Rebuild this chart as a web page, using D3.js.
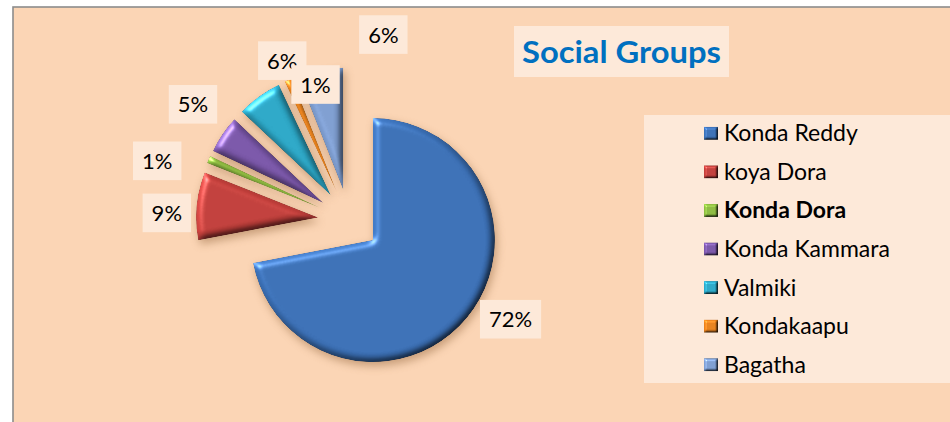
<!DOCTYPE html>
<html>
<head>
<meta charset="utf-8">
<script src="https://cdn.jsdelivr.net/npm/d3@7"></script>
<style>
  html, body { margin: 0; padding: 0; background: #ffffff; }
  svg { display: block; font-family: Lato, "Open Sans", sans-serif; }
</style>
</head>
<body>
<script>
// ---- data ----
const categories = ["Konda Reddy", "koya Dora", "Konda Dora", "Konda Kammara", "Valmiki", "Kondakaapu", "Bagatha"];
const values = [72, 9, 1, 5, 6, 1, 6];
const colors = ["#3A6EB3", "#BE3E3A", "#8AB83F", "#7855A6", "#2BA5C4", "#E47F1C", "#7C9BCD"];
const boldLegend = ["Konda Dora"];
const title = "Social Groups";

// ---- layout ----
const W = 950, H = 422;
const cx = 349, cy = 220.3, R = 122, explode = 31, labelR = 185;
// manual nudges of data labels (Excel-style placement)
const labelNudge = [[19, -19], [2, 10], [-22, 14], [-3, -12], [42, -10], [40, 34], [69, -4]];

const svg = d3.select("body").append("svg").attr("width", W).attr("height", H);
const defs = svg.append("defs");

function bevelFilter(id, blur, scale, shadowDx, shadowDy, shadowBlur, shadowOp) {
  const f = defs.append("filter").attr("id", id)
    .attr("x", "-30%").attr("y", "-30%").attr("width", "160%").attr("height", "160%")
    .attr("color-interpolation-filters", "sRGB");
  f.append("feGaussianBlur").attr("in", "SourceAlpha").attr("stdDeviation", blur).attr("result", "blur");
  const dl = f.append("feDiffuseLighting").attr("in", "blur").attr("surfaceScale", scale)
    .attr("diffuseConstant", 1).attr("lighting-color", "#ffffff").attr("result", "diff");
  dl.append("feDistantLight").attr("azimuth", 225).attr("elevation", 55);
  const sl = f.append("feSpecularLighting").attr("in", "blur").attr("surfaceScale", scale)
    .attr("specularConstant", 0.9).attr("specularExponent", 40).attr("lighting-color", "#ffffff").attr("result", "spec");
  sl.append("feDistantLight").attr("azimuth", 225).attr("elevation", 45);
  f.append("feComposite").attr("in", "spec").attr("in2", "SourceAlpha").attr("operator", "in").attr("result", "specIn");
  f.append("feComposite").attr("in", "SourceGraphic").attr("in2", "diff").attr("operator", "arithmetic")
    .attr("k1", 1.22).attr("k2", 0).attr("k3", 0).attr("k4", 0).attr("result", "shaded");
  f.append("feComposite").attr("in", "shaded").attr("in2", "specIn").attr("operator", "arithmetic")
    .attr("k1", 0).attr("k2", 1).attr("k3", 0.45).attr("k4", 0).attr("result", "lit");
  f.append("feComposite").attr("in", "lit").attr("in2", "SourceAlpha").attr("operator", "in").attr("result", "litIn");
  f.append("feGaussianBlur").attr("in", "SourceAlpha").attr("stdDeviation", shadowBlur).attr("result", "sblur");
  f.append("feOffset").attr("in", "sblur").attr("dx", shadowDx).attr("dy", shadowDy).attr("result", "soff");
  f.append("feFlood").attr("flood-color", "#7a4a20").attr("flood-opacity", shadowOp).attr("result", "scol");
  f.append("feComposite").attr("in", "scol").attr("in2", "soff").attr("operator", "in").attr("result", "shadow");
  const m = f.append("feMerge");
  m.append("feMergeNode").attr("in", "shadow");
  m.append("feMergeNode").attr("in", "litIn");
}
bevelFilter("bevel", 3.5, 3.5, 2, 4, 4, 0.4);
bevelFilter("bevelSmall", 1.2, 2, 0, 0, 0.5, 0);

// chart area
svg.append("rect").attr("x", 13).attr("y", 7).attr("width", W).attr("height", H)
  .attr("fill", "#FBD5B5").attr("stroke", "#8c8c8c").attr("stroke-width", 1.6);

// ---- pie ----
const data = categories.map((c, i) => ({ name: c, value: values[i], color: colors[i] }));
const total = d3.sum(values);
const pie = d3.pie().sort(null).value(d => d.value);
const arcs = pie(data);
const arcGen = d3.arc().innerRadius(0).outerRadius(R);
const dirOf = a => { const m = (a.startAngle + a.endAngle) / 2; return [Math.sin(m), -Math.cos(m)]; };

svg.append("g").selectAll("path").data(arcs).join("path")
  .attr("transform", a => { const [dx, dy] = dirOf(a); return `translate(${cx + dx * explode},${cy + dy * explode})`; })
  .attr("d", arcGen)
  .attr("fill", a => a.data.color)
  .attr("filter", "url(#bevel)");

// ---- data labels ----
const lab = svg.append("g").selectAll("g").data(arcs).join("g")
  .attr("transform", (a, i) => {
    const [dx, dy] = dirOf(a);
    const x = cx + dx * labelR + labelNudge[i][0];
    const y = cy + dy * labelR + labelNudge[i][1];
    return `translate(${x},${y})`;
  });
lab.each(function (a) {
  const g = d3.select(this);
  const t = g.append("text").attr("text-anchor", "middle").attr("y", 8)
    .attr("font-size", 22).attr("fill", "#000")
    .text(Math.round(a.data.value / total * 100) + "%");
  const w = t.node().getComputedTextLength();
  g.insert("rect", "text").attr("x", -(w / 2 + 9)).attr("y", -19.3)
    .attr("width", w + 18).attr("height", 38.6).attr("fill", "#FDE9D9");
});

// ---- title ----
const tg = svg.append("g");
tg.append("rect").attr("x", 514).attr("y", 26).attr("width", 215).attr("height", 51).attr("fill", "#FDE9D9");
tg.append("text").attr("x", 621.5).attr("y", 63).attr("text-anchor", "middle")
  .attr("font-size", 31).attr("font-weight", "bold").attr("fill", "#0070C0")
  .attr("textLength", 199).attr("lengthAdjust", "spacingAndGlyphs")
  .text(title);

// ---- legend ----
const lg = svg.append("g");
lg.append("rect").attr("x", 644).attr("y", 115).attr("width", 320).attr("height", 268).attr("fill", "#FDE9D9");
const ly = d3.scaleBand().domain(categories).range([114, 384]);
const items = lg.selectAll("g.item").data(data).join("g").attr("class", "item")
  .attr("transform", d => `translate(0,${ly(d.name) + ly.bandwidth() / 2})`);
items.append("rect").attr("x", 704).attr("y", -6.5).attr("width", 14).attr("height", 13)
  .attr("fill", d => d.color).attr("filter", "url(#bevelSmall)");
items.append("text").attr("x", 724).attr("y", 8)
  .attr("font-size", 23).attr("fill", "#000")
  .attr("font-weight", d => boldLegend.includes(d.name) ? "bold" : "normal")
  .text(d => d.name);
</script>
</body>
</html>
